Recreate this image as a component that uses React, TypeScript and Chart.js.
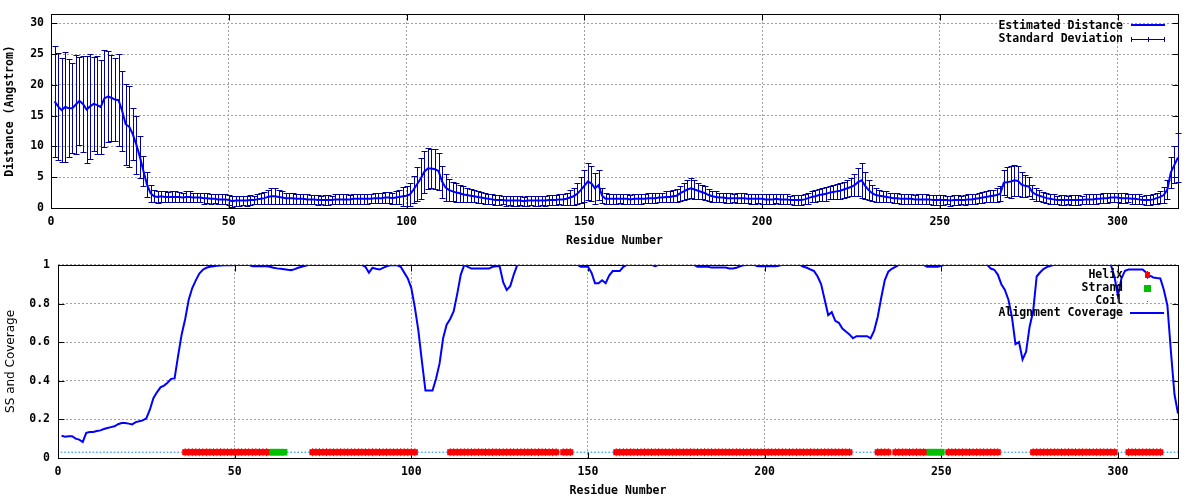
import React, { useEffect, useRef } from 'react';
import { Chart, registerables } from 'chart.js';

Chart.register(...registerables);

// ---------- DATA (residues 1..317) ----------
const estimatedDistance: number[] = [
  17.3, 16.5, 15.9, 16.4, 16.2, 16.2, 16.8, 17.4, 16.9, 16.0,
  16.5, 16.9, 16.7, 16.4, 17.8, 18.1, 17.9, 17.6, 17.5, 15.8,
  13.6, 13.2, 12.0, 10.3, 8.3, 6.0, 3.8, 2.4, 1.9, 1.8,
  1.9, 1.8, 1.8, 1.8, 1.8, 1.8, 1.7, 1.8, 1.8, 1.7,
  1.7, 1.7, 1.6, 1.6, 1.5, 1.5, 1.4, 1.4, 1.4, 1.3,
  1.1, 1.2, 1.2, 1.2, 1.2, 1.3, 1.3, 1.4, 1.5, 1.6,
  1.8, 1.9, 1.9, 1.8, 1.7, 1.6, 1.6, 1.6, 1.5, 1.5,
  1.5, 1.4, 1.4, 1.4, 1.3, 1.3, 1.3, 1.3, 1.3, 1.4,
  1.4, 1.4, 1.4, 1.4, 1.5, 1.5, 1.5, 1.5, 1.5, 1.5,
  1.6, 1.6, 1.6, 1.7, 1.7, 1.6, 1.7, 1.8, 1.9, 2.0,
  2.2, 3.0, 3.9, 4.8, 5.9, 6.4, 6.4, 6.3, 6.0, 4.3,
  3.3, 2.9, 2.7, 2.5, 2.4, 2.2, 2.1, 2.0, 1.9, 1.8,
  1.7, 1.6, 1.5, 1.4, 1.3, 1.3, 1.3, 1.2, 1.2, 1.2,
  1.2, 1.2, 1.1, 1.2, 1.2, 1.2, 1.2, 1.2, 1.2, 1.3,
  1.3, 1.3, 1.4, 1.4, 1.5, 1.7, 1.9, 2.3, 2.9, 3.6,
  4.3, 4.0, 3.2, 3.7, 2.0, 1.5, 1.5, 1.5, 1.5, 1.5,
  1.5, 1.5, 1.4, 1.5, 1.5, 1.5, 1.5, 1.6, 1.6, 1.6,
  1.7, 1.7, 1.8, 1.8, 1.9, 2.0, 2.4, 2.7, 3.0, 3.2,
  3.0, 2.8, 2.6, 2.4, 2.1, 1.9, 1.8, 1.7, 1.7, 1.6,
  1.6, 1.6, 1.6, 1.6, 1.6, 1.5, 1.5, 1.5, 1.5, 1.5,
  1.4, 1.4, 1.4, 1.5, 1.4, 1.4, 1.4, 1.3, 1.3, 1.3,
  1.3, 1.4, 1.6, 1.8, 1.9, 2.1, 2.2, 2.3, 2.5, 2.6,
  2.7, 2.8, 3.0, 3.2, 3.4, 3.7, 4.2, 4.5, 3.6, 2.9,
  2.4, 2.1, 2.0, 1.9, 1.8, 1.7, 1.6, 1.6, 1.5, 1.5,
  1.5, 1.5, 1.4, 1.4, 1.4, 1.4, 1.4, 1.3, 1.3, 1.3,
  1.3, 1.3, 1.2, 1.3, 1.3, 1.3, 1.3, 1.4, 1.4, 1.5,
  1.6, 1.7, 1.8, 1.9, 2.0, 2.1, 2.3, 4.1, 4.2, 4.3,
  4.5, 4.4, 3.8, 3.6, 3.5, 2.6, 2.2, 2.0, 1.8, 1.6,
  1.5, 1.4, 1.3, 1.3, 1.3, 1.3, 1.3, 1.3, 1.3, 1.3,
  1.4, 1.4, 1.4, 1.5, 1.5, 1.6, 1.6, 1.7, 1.7, 1.7,
  1.6, 1.6, 1.6, 1.5, 1.5, 1.4, 1.3, 1.3, 1.3, 1.4,
  1.6, 1.8, 2.1, 3.0, 5.8, 7.0, 8.2,
];

const standardDeviation: number[] = [
  9.0, 8.7, 8.5, 8.9, 8.0, 7.3, 8.0, 7.1, 7.8, 8.7,
  8.5, 7.6, 7.9, 7.7, 7.9, 7.4, 7.0, 6.8, 7.5, 6.5,
  6.6, 6.6, 4.2, 4.7, 3.4, 2.4, 2.0, 1.4, 1.0, 1.0,
  0.9, 0.9, 0.8, 0.9, 0.9, 0.8, 0.8, 0.9, 0.9, 0.8,
  0.8, 0.8, 0.9, 0.8, 0.8, 0.7, 0.8, 0.8, 0.8, 0.8,
  0.9, 0.8, 0.8, 0.7, 0.8, 0.8, 0.7, 0.8, 0.9, 1.0,
  1.2, 1.3, 1.3, 1.2, 1.0, 0.9, 0.9, 0.9, 0.8, 0.8,
  0.8, 0.8, 0.7, 0.7, 0.8, 0.7, 0.8, 0.8, 0.7, 0.8,
  0.8, 0.8, 0.8, 0.7, 0.8, 0.8, 0.8, 0.8, 0.8, 0.7,
  0.8, 0.8, 0.8, 0.9, 0.9, 0.9, 1.0, 1.2, 1.5, 1.6,
  1.8, 2.2, 2.8, 3.3, 3.4, 3.3, 3.2, 3.2, 3.0, 2.6,
  2.2, 1.8, 1.6, 1.5, 1.4, 1.3, 1.2, 1.1, 1.0, 1.0,
  0.9, 0.9, 0.8, 0.8, 0.8, 0.8, 0.7, 0.8, 0.7, 0.8,
  0.8, 0.7, 0.7, 0.8, 0.7, 0.8, 0.8, 0.7, 0.8, 0.8,
  0.8, 0.8, 0.8, 0.9, 1.0, 1.2, 1.4, 1.7, 2.1, 2.6,
  3.0, 2.8, 2.5, 2.4, 1.2, 0.9, 0.8, 0.8, 0.8, 0.7,
  0.8, 0.8, 0.7, 0.8, 0.8, 0.8, 0.7, 0.8, 0.8, 0.8,
  0.8, 0.8, 0.9, 0.9, 1.0, 1.1, 1.2, 1.4, 1.5, 1.6,
  1.5, 1.3, 1.2, 1.1, 1.0, 0.9, 0.9, 0.8, 0.8, 0.8,
  0.8, 0.7, 0.8, 0.8, 0.8, 0.7, 0.8, 0.8, 0.7, 0.8,
  0.8, 0.8, 0.8, 0.7, 0.8, 0.8, 0.8, 0.7, 0.8, 0.8,
  0.8, 0.8, 0.9, 0.9, 1.0, 1.0, 1.0, 1.1, 1.1, 1.2,
  1.2, 1.3, 1.3, 1.4, 1.5, 1.8, 2.3, 2.8, 2.2, 1.6,
  1.3, 1.1, 1.0, 0.9, 0.9, 0.8, 0.8, 0.8, 0.8, 0.8,
  0.8, 0.8, 0.7, 0.8, 0.8, 0.8, 0.7, 0.8, 0.8, 0.8,
  0.8, 0.7, 0.8, 0.8, 0.8, 0.7, 0.8, 0.8, 0.8, 0.8,
  0.8, 0.9, 0.9, 1.0, 1.0, 1.1, 1.2, 2.0, 2.4, 2.6,
  2.5, 2.4, 2.0, 1.8, 1.6, 1.2, 1.0, 0.9, 0.8, 0.8,
  0.8, 0.8, 0.7, 0.8, 0.8, 0.7, 0.8, 0.8, 0.8, 0.7,
  0.8, 0.8, 0.8, 0.8, 0.7, 0.8, 0.8, 0.8, 0.8, 0.8,
  0.8, 0.8, 0.7, 0.8, 0.8, 0.8, 0.7, 0.8, 0.8, 0.8,
  0.9, 1.0, 1.3, 1.6, 2.5, 3.0, 3.9,
];

const alignmentCoverage: number[] = [
  0.115, 0.11, 0.113, 0.113, 0.1, 0.095, 0.083, 0.13, 0.135, 0.135,
  0.14, 0.143, 0.15, 0.155, 0.16, 0.164, 0.175, 0.181, 0.181, 0.178,
  0.174, 0.186, 0.19, 0.195, 0.205, 0.25, 0.31, 0.34, 0.366, 0.375,
  0.39, 0.41, 0.412, 0.53, 0.64, 0.72, 0.82, 0.88, 0.92, 0.955,
  0.975, 0.985, 0.99, 0.993, 0.995, 0.997, 0.998, 0.998, 0.998, 0.999,
  1, 1, 1, 1, 0.993, 0.993, 0.993, 0.993, 0.993, 0.99,
  0.985, 0.982, 0.98, 0.978, 0.975, 0.973, 0.978, 0.985, 0.99, 0.995,
  1, 1, 1, 1, 1, 1, 1, 1, 1, 1,
  1, 1, 1, 1, 1, 1, 0.99, 0.96, 0.985, 0.98,
  0.976, 0.985, 0.993, 0.998, 0.998, 0.998, 0.99, 0.96, 0.93, 0.88,
  0.78, 0.66, 0.5, 0.349, 0.349, 0.349, 0.41, 0.49, 0.62, 0.69,
  0.72, 0.76, 0.85, 0.95, 1, 0.99, 0.981, 0.981, 0.981, 0.981,
  0.981, 0.981, 0.99, 0.993, 0.993, 0.91, 0.87, 0.89, 0.95, 1,
  1, 1, 1, 1, 1, 1, 1, 1, 1, 1,
  1, 1, 1, 1, 1, 1, 1, 0.99, 0.99, 0.99,
  0.96, 0.905, 0.905, 0.92, 0.905, 0.945, 0.968, 0.968, 0.968, 0.99,
  1, 1, 1, 1, 1, 1, 1, 1, 0.993, 1,
  1, 1, 1, 1, 1, 1, 1, 1, 1, 1,
  0.99, 0.99, 0.99, 0.99, 0.986, 0.986, 0.986, 0.986, 0.986, 0.981,
  0.981, 0.985, 0.993, 0.998, 1, 1, 1, 0.993, 0.993, 0.993,
  0.993, 0.993, 0.993, 0.995, 1, 1, 1, 1, 1, 1,
  0.99, 0.985, 0.976, 0.968, 0.94, 0.9, 0.82, 0.74, 0.755, 0.71,
  0.7, 0.67, 0.655, 0.64, 0.62, 0.631, 0.631, 0.631, 0.631, 0.62,
  0.66, 0.73, 0.83, 0.92, 0.965, 0.98, 0.99, 1, 1, 1,
  1, 1, 1, 1, 1, 0.99, 0.99, 0.99, 0.99, 0.995,
  1, 1, 1, 1, 1, 1, 1, 1, 1, 1,
  1, 1, 1, 0.981, 0.975, 0.95, 0.9, 0.87, 0.82, 0.73,
  0.59, 0.6, 0.51, 0.55, 0.68, 0.76, 0.94, 0.962, 0.98, 0.99,
  0.995, 1, 1, 1, 1, 1, 1, 1, 1, 1,
  1, 1, 1, 1, 1, 1, 1, 1, 0.94, 0.84,
  0.93, 0.97, 0.976, 0.976, 0.976, 0.976, 0.976, 0.96, 0.945, 0.935,
  0.932, 0.93, 0.87, 0.79, 0.55, 0.33, 0.23,
];

// Secondary structure segments (first residue, last residue)
const helixSegments: [number, number][] = [
  [36, 59], [72, 101], [111, 141], [143, 145], [158, 224],
  [232, 235], [237, 245], [252, 266], [276, 299], [303, 312],
];
const strandSegments: [number, number][] = [[60, 64], [246, 250]];
const ssLevel = 0.03;

const xTickStep = 50;
const topYTickStep = 5;
const bottomYTickStep = 0.2;

// ---------- helpers ----------
const residues: number[] = estimatedDistance.map((_, i) => i + 1);
const inSegments = (r: number, segs: [number, number][]) => segs.some(([a, b]) => r >= a && r <= b);
const helixPts = residues.filter((r) => inSegments(r, helixSegments)).map((r) => ({ x: r, y: ssLevel }));
const strandPts = residues.filter((r) => inSegments(r, strandSegments)).map((r) => ({ x: r, y: ssLevel }));
const coilPts = residues
  .filter((r) => !inSegments(r, helixSegments) && !inSegments(r, strandSegments))
  .map((r) => ({ x: r, y: ssLevel }));

const MONO = "'DejaVu Sans Mono', 'Liberation Mono', monospace";
const monoFont = { family: MONO, size: 11.5, weight: 'bold' as const };
const GRID = '#a0a0a0';
const BLUE = '#0000ff';
const ERR = '#0000a0';
const RED = '#ff0000';
const GREEN = '#00c000';
const COIL = '#0080ff';

const framePlugin = {
  id: 'gnuFrame',
  beforeDatasetsDraw(chart: any) {
    const { ctx, chartArea, scales } = chart;
    const { x, y } = scales;
    const L = Math.round(chartArea.left) + 0.5;
    const R = Math.round(chartArea.right) + 0.5;
    const T = Math.round(chartArea.top) + 0.5;
    const B = Math.round(chartArea.bottom) + 0.5;
    ctx.save();
    ctx.strokeStyle = '#000';
    ctx.lineWidth = 1;
    ctx.strokeRect(L, T, R - L, B - T);
    ctx.beginPath();
    x.ticks.forEach((t: any) => {
      const px = Math.round(x.getPixelForValue(t.value)) + 0.5;
      ctx.moveTo(px, B); ctx.lineTo(px, B - 6);
      ctx.moveTo(px, T); ctx.lineTo(px, T + 6);
    });
    y.ticks.forEach((t: any) => {
      const py = Math.round(y.getPixelForValue(t.value)) + 0.5;
      ctx.moveTo(L, py); ctx.lineTo(L + 6, py);
      ctx.moveTo(R, py); ctx.lineTo(R - 6, py);
    });
    ctx.stroke();
    ctx.restore();
  },
};

const errorBarPlugin = {
  id: 'errorBars',
  beforeDatasetsDraw(chart: any) {
    const { ctx, scales } = chart;
    const { x, y } = scales;
    ctx.save();
    ctx.strokeStyle = ERR;
    ctx.lineWidth = 1;
    ctx.beginPath();
    estimatedDistance.forEach((v, i) => {
      const px = Math.round(x.getPixelForValue(residues[i])) + 0.5;
      const top = Math.round(y.getPixelForValue(v + standardDeviation[i])) + 0.5;
      const bot = Math.round(y.getPixelForValue(v - standardDeviation[i])) + 0.5;
      ctx.moveTo(px, top); ctx.lineTo(px, bot);
      ctx.moveTo(px - 3, top); ctx.lineTo(px + 3, top);
      ctx.moveTo(px - 3, bot); ctx.lineTo(px + 3, bot);
    });
    ctx.stroke();
    ctx.restore();
  },
};

const topLegendPlugin = {
  id: 'topLegend',
  afterDatasetsDraw(chart: any) {
    const { ctx } = chart;
    ctx.save();
    ctx.font = `bold 11.5px ${MONO}`;
    ctx.fillStyle = '#000';
    ctx.textAlign = 'right';
    ctx.textBaseline = 'middle';
    ctx.fillText('Estimated Distance', 1123, 26);
    ctx.fillText('Standard Deviation', 1123, 39);
    ctx.strokeStyle = BLUE;
    ctx.lineWidth = 2;
    ctx.beginPath(); ctx.moveTo(1131, 25); ctx.lineTo(1165, 25); ctx.stroke();
    ctx.strokeStyle = ERR;
    ctx.lineWidth = 1;
    ctx.beginPath();
    ctx.moveTo(1131, 39.5); ctx.lineTo(1165, 39.5);
    [1131.5, 1148.5, 1164.5].forEach((cx) => { ctx.moveTo(cx, 37); ctx.lineTo(cx, 42); });
    ctx.stroke();
    ctx.restore();
  },
};

const bottomLegendPlugin = {
  id: 'bottomLegend',
  afterDatasetsDraw(chart: any) {
    const { ctx } = chart;
    ctx.save();
    ctx.font = `bold 11.5px ${MONO}`;
    ctx.fillStyle = '#000';
    ctx.textAlign = 'right';
    ctx.textBaseline = 'middle';
    ctx.fillText('Helix', 1123, 25);
    ctx.fillText('Strand', 1123, 38.5);
    ctx.fillText('Coil', 1123, 51);
    ctx.fillText('Alignment Coverage', 1123, 63.5);
    ctx.fillStyle = RED;
    ctx.fillRect(1145, 22, 5, 6);
    ctx.fillRect(1147, 21, 1, 8);
    ctx.fillStyle = GREEN;
    ctx.fillRect(1144, 35, 7, 7);
    ctx.fillStyle = COIL;
    ctx.fillRect(1147, 51, 1, 1);
    ctx.strokeStyle = BLUE;
    ctx.lineWidth = 2;
    ctx.beginPath(); ctx.moveTo(1130, 63); ctx.lineTo(1164, 63); ctx.stroke();
    ctx.restore();
  },
};

function xScale() {
  return {
    type: 'linear' as const,
    min: 0,
    max: 317,
    ticks: { stepSize: xTickStep, includeBounds: false, padding: 7, color: '#000', font: monoFont, maxRotation: 0, autoSkip: false },
    grid: { color: GRID, drawTicks: false, lineWidth: 1 },
    border: { display: false, dash: [2, 2] },
    title: { display: true, text: 'Residue Number', color: '#000', font: monoFont, padding: { top: 0, bottom: 2 } },
    afterFit: (s: any) => { s.height = 42; },
  };
}

export default function App() {
  const topRef = useRef<HTMLCanvasElement>(null);
  const botRef = useRef<HTMLCanvasElement>(null);

  useEffect(() => {
    const top = new Chart(topRef.current as HTMLCanvasElement, {
      type: 'line',
      data: {
        datasets: [
          {
            label: 'Estimated Distance',
            data: estimatedDistance.map((v, i) => ({ x: residues[i], y: v })),
            borderColor: BLUE,
            borderWidth: 2,
            pointRadius: 0,
            tension: 0,
            fill: false,
          },
        ],
      },
      options: {
        responsive: false,
        animation: false,
        devicePixelRatio: 1,
        events: [],
        layout: { padding: { left: 0, top: 14, right: 22, bottom: 0 } },
        plugins: { legend: { display: false }, tooltip: { enabled: false } },
        scales: {
          x: xScale(),
          y: {
            type: 'linear',
            min: 0,
            max: 31.5,
            ticks: { stepSize: topYTickStep, includeBounds: false, padding: 7, color: '#000', font: monoFont },
            grid: { color: GRID, drawTicks: false, lineWidth: 1 },
            border: { display: false, dash: [2, 2] },
            title: { display: true, text: 'Distance (Angstrom)', color: '#000', font: monoFont, padding: { top: 3, bottom: 0 } },
            afterFit: (s: any) => { s.width = 51; },
          },
        },
      } as any,
      plugins: [framePlugin, errorBarPlugin, topLegendPlugin],
    });

    const bottom = new Chart(botRef.current as HTMLCanvasElement, {
      type: 'scatter',
      data: {
        datasets: [
          {
            label: 'Alignment Coverage',
            data: alignmentCoverage.map((v, i) => ({ x: residues[i], y: v })),
            showLine: true,
            borderColor: BLUE,
            borderWidth: 2,
            pointRadius: 0,
            tension: 0,
          },
          {
            label: 'Helix ticks',
            data: helixPts,
            pointStyle: 'line',
            rotation: 90,
            pointRadius: 4,
            borderColor: RED,
            borderWidth: 1,
          },
          {
            label: 'Helix',
            data: helixPts,
            pointStyle: 'rect',
            pointRadius: 4.25,
            backgroundColor: RED,
            borderWidth: 0,
          },
          {
            label: 'Strand',
            data: strandPts,
            pointStyle: 'rect',
            pointRadius: 4.7,
            backgroundColor: GREEN,
            borderWidth: 0,
          },
          {
            label: 'Coil',
            data: coilPts,
            pointStyle: 'line',
            pointRadius: 0.8,
            borderColor: COIL,
            borderWidth: 1,
          },
        ],
      },
      options: {
        responsive: false,
        animation: false,
        devicePixelRatio: 1,
        events: [],
        layout: { padding: { left: 0, top: 13, right: 22, bottom: 0 } },
        plugins: { legend: { display: false }, tooltip: { enabled: false } },
        scales: {
          x: xScale(),
          y: {
            type: 'linear',
            min: 0,
            max: 1,
            ticks: {
              stepSize: bottomYTickStep,
              padding: 8,
              color: '#000',
              font: monoFont,
              callback: (v: any) => String(Math.round(Number(v) * 10) / 10),
            },
            grid: { color: GRID, drawTicks: false, lineWidth: 1 },
            border: { display: false, dash: [2, 2] },
            title: {
              display: true,
              text: 'SS and Coverage',
              color: '#000',
              font: { family: "'DejaVu Sans', sans-serif", size: 12, weight: 'normal' },
              padding: { top: 3.5, bottom: 0 },
            },
            afterFit: (s: any) => { s.width = 58; },
          },
        },
      } as any,
      plugins: [framePlugin, bottomLegendPlugin],
    });

    return () => {
      top.destroy();
      bottom.destroy();
    };
  }, []);

  return (
    <div style={{ position: 'absolute', left: 0, top: 0, width: 1200, height: 500, background: '#fff' }}>
      <canvas ref={topRef} width={1200} height={250} style={{ display: 'block', width: 1200, height: 250 }} />
      <canvas ref={botRef} width={1200} height={250} style={{ display: 'block', width: 1200, height: 250 }} />
    </div>
  );
}
